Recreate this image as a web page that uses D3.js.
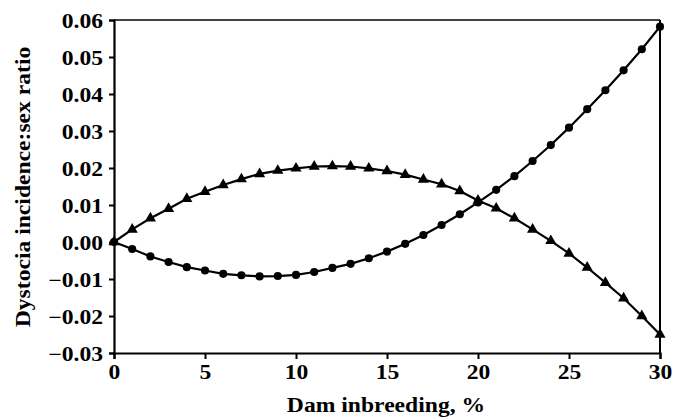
<!DOCTYPE html>
<html lang="en">
<head>
<meta charset="utf-8">
<title>Dystocia incidence : sex ratio</title>
<style>
  body { margin: 0; background: #fff; }
  text { font-family: "Liberation Serif", "Times New Roman", serif; font-weight: bold; fill: #000; }
</style>
</head>
<body>
<svg width="674" height="419"></svg>
<script src="https://cdn.jsdelivr.net/npm/d3@7"></script>
<script>
// dam inbreeding, %
var inbreeding = d3.range(0, 31);

// circle series
var circleVals = [0.0000, -0.0019, -0.0039, -0.0054, -0.0068, -0.0077, -0.0086, -0.0090,
  -0.0093, -0.0092, -0.0089, -0.0081, -0.0070, -0.0059, -0.0044, -0.0026, -0.0005,
  0.0019, 0.0046, 0.0075, 0.0107, 0.0141, 0.0178, 0.0219, 0.0262, 0.0309, 0.0359,
  0.0410, 0.0464, 0.0521, 0.0582];

// triangle series
var triangleVals = [0.0000, 0.0034, 0.0064, 0.0090, 0.0117, 0.0136, 0.0154, 0.0170,
  0.0184, 0.0193, 0.0199, 0.0204, 0.0205, 0.0204, 0.0199, 0.0192, 0.0182, 0.0169,
  0.0156, 0.0138, 0.0112, 0.0091, 0.0064, 0.0034, 0.0003, -0.0031, -0.0069, -0.0110,
  -0.0152, -0.0200, -0.0250];

var xTicks = [0, 5, 10, 15, 20, 25, 30];
var yTicks = [-0.03, -0.02, -0.01, 0.00, 0.01, 0.02, 0.03, 0.04, 0.05, 0.06];

var svg = d3.select("svg");
var margin = {top: 20, right: 14, bottom: 66, left: 114};
var width = 674 - margin.left - margin.right,
    height = 419 - margin.top - margin.bottom;

var g = svg.append("g").attr("transform", "translate(" + margin.left + "," + margin.top + ")");

var x = d3.scaleLinear().domain([0, 30]).range([0, width]);
var y = d3.scaleLinear().domain([-0.03, 0.06]).range([height, 0]);

// top and right frame lines
g.append("line").attr("x1", 0).attr("x2", width).attr("y1", 0).attr("y2", 0)
  .attr("stroke", "#000").attr("stroke-width", 1.5);
g.append("line").attr("x1", width).attr("x2", width).attr("y1", 0).attr("y2", height)
  .attr("stroke", "#000").attr("stroke-width", 2);

var xAxis = g.append("g").attr("transform", "translate(0," + height + ")")
  .call(d3.axisBottom(x).tickValues(xTicks).tickSize(6).tickPadding(6).tickFormat(d3.format("d")));
var yAxis = g.append("g")
  .call(d3.axisLeft(y).tickValues(yTicks).tickSize(5).tickPadding(6).tickFormat(d3.format(".2f")));

[xAxis, yAxis].forEach(function(a) {
  a.select(".domain").attr("stroke-width", 2.2);
  a.selectAll(".tick line").attr("stroke-width", 2);
  a.selectAll("text").attr("font-family", null).style("font-size", "20px").attr("fill", "#000");
});
yAxis.selectAll("text").attr("dy", "0.35em");

var line = d3.line().x(function(d, i) { return x(inbreeding[i]); }).y(function(d) { return y(d); });

[circleVals, triangleVals].forEach(function(vals) {
  g.append("path").datum(vals).attr("d", line)
    .attr("fill", "none").attr("stroke", "#000").attr("stroke-width", 2.2);
});

g.selectAll(".dot").data(circleVals).enter().append("path")
  .attr("class", "dot")
  .attr("transform", function(d, i) { return "translate(" + x(inbreeding[i]) + "," + y(d) + ")"; })
  .attr("d", d3.symbol().type(d3.symbolCircle).size(52));

g.selectAll(".tri").data(triangleVals).enter().append("path")
  .attr("class", "tri")
  .attr("transform", function(d, i) { return "translate(" + x(inbreeding[i]) + "," + y(d) + ")"; })
  .attr("d", d3.symbol().type(d3.symbolTriangle).size(54));

// axis titles
svg.append("text").attr("x", margin.left + width / 2 - 1).attr("y", 412)
  .attr("text-anchor", "middle").style("font-size", "20px").text("Dam inbreeding, %");
svg.append("text").attr("transform", "translate(30,187) rotate(-90)")
  .attr("text-anchor", "middle").style("font-size", "20px").text("Dystocia incidence:sex ratio");

// the original type is a wider bold face, stretch glyphs to match
svg.selectAll("text").each(function() {
  var w = this.getComputedTextLength();
  d3.select(this).attr("textLength", w * 1.18).attr("lengthAdjust", "spacingAndGlyphs");
});
</script>
</body>
</html>
